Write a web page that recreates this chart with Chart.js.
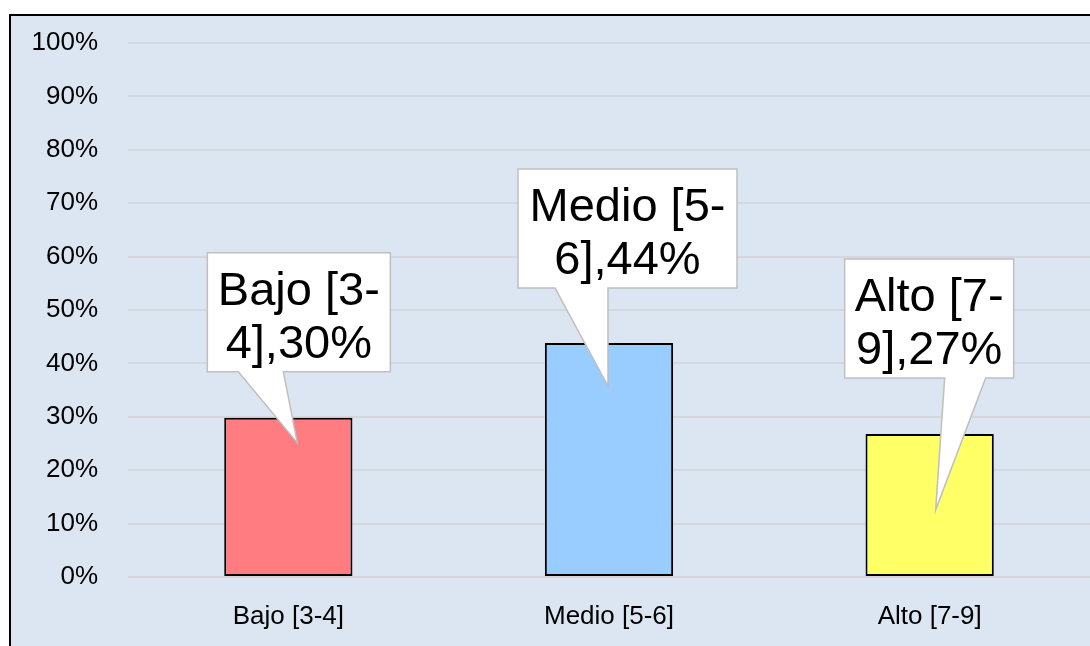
<!DOCTYPE html>
<html>
<head>
<meta charset="utf-8">
<script src="https://cdn.jsdelivr.net/npm/chart.js@4/dist/chart.umd.min.js"></script>
<style>
  html, body { margin: 0; padding: 0; background: #fff; }
  #panel {
    position: absolute; left: 9px; top: 14px;
    width: 1081px; height: 632px;
    box-sizing: border-box;
    border-left: 2px solid #000; border-top: 2px solid #000;
    background: #DCE6F2;
  }
  #grafico { display: block; }
</style>
</head>
<body>
<div id="panel"><canvas id="grafico" width="1079" height="630"></canvas></div>
<script>
// datos
const categorias = ['Bajo [3-4]', 'Medio [5-6]', 'Alto [7-9]'];
const porcentajes = [29.8, 43.8, 26.8];
const colores = ['#FF7C80', '#99CCFF', '#FFFF66'];
const marcasY = [0, 10, 20, 30, 40, 50, 60, 70, 80, 90, 100];

// posición de cada globo respecto a la parte superior del bar
const globos = [
  { dx: 10.5, abajo: -46, ancho: 183, puntaX: 9,  puntaY: 25, base1: 31,  base2: 76 },
  { dx: 18.5, abajo: -55, ancho: 219, puntaX: -1, puntaY: 43, base1: 37,  base2: 90 },
  { dx: -0.5, abajo: -56, ancho: 169, puntaX: 6,  puntaY: 76, base1: 100, base2: 141 }
];

const fuenteEjes = "'Liberation Sans', Arial, sans-serif";

const pluginGlobos = {
  id: 'globos',
  afterDatasetsDraw(chart) {
    const ctx = chart.ctx;
    const meta = chart.getDatasetMeta(0);
    meta.data.forEach((bar, i) => {
      const g = globos[i];
      const alto = 119;
      const izq = bar.x + g.dx - g.ancho / 2;
      const abajo = bar.y + g.abajo;
      const arriba = abajo - alto;
      const der = izq + g.ancho;

      ctx.save();
      ctx.beginPath();
      ctx.moveTo(izq, arriba);
      ctx.lineTo(der, arriba);
      ctx.lineTo(der, abajo);
      ctx.lineTo(izq + g.base2, abajo);
      ctx.lineTo(bar.x + g.puntaX, bar.y + g.puntaY);
      ctx.lineTo(izq + g.base1, abajo);
      ctx.lineTo(izq, abajo);
      ctx.closePath();
      ctx.fillStyle = '#FFFFFF';
      ctx.fill();
      ctx.lineWidth = 1.5;
      ctx.strokeStyle = '#BFBFBF';
      ctx.stroke();

      // texto partido en el guion, como hace Excel
      const texto = categorias[i] + ',' + Math.round(porcentajes[i]) + '%';
      const corte = texto.indexOf('-') + 1;
      const lineas = [texto.slice(0, corte), texto.slice(corte)];
      ctx.fillStyle = '#000';
      ctx.font = "47px 'Liberation Sans', Arial, sans-serif";
      ctx.textAlign = 'center';
      ctx.textBaseline = 'alphabetic';
      const cx = (izq + der) / 2;
      ctx.fillText(lineas[0], cx, arriba + 52);
      ctx.fillText(lineas[1], cx, arriba + 105);
      ctx.restore();
    });
  }
};

const ctx = document.getElementById('grafico').getContext('2d');
new Chart(ctx, {
  type: 'bar',
  data: {
    labels: categorias,
    datasets: [{
      data: porcentajes,
      backgroundColor: colores,
      borderColor: '#000',
      borderWidth: 2,
      borderSkipped: false,
      barPercentage: 0.4,
      categoryPercentage: 1
    }]
  },
  options: {
    responsive: false,
    animation: false,
    layout: { padding: { top: 27, left: 0, right: 0, bottom: 0 } },
    plugins: { legend: { display: false }, tooltip: { enabled: false } },
    scales: {
      x: {
        grid: { display: false },
        border: { display: false },
        ticks: { color: '#000', padding: 16, font: { family: fuenteEjes, size: 26 } },
        afterFit(scale) { scale.height = 69; }
      },
      y: {
        min: 0,
        max: 100,
        afterBuildTicks(scale) { scale.ticks = marcasY.map(v => ({ value: v })); },
        grid: { color: '#D4D8DC', lineWidth: 2, drawTicks: false },
        border: { display: false },
        ticks: {
          color: '#000',
          padding: 30,
          font: { family: fuenteEjes, size: 26 },
          callback: v => v + '%'
        },
        afterFit(scale) {
          scale.width = 117;
          scale.paddingTop = 0;
          scale.paddingBottom = 0;
        }
      }
    }
  },
  plugins: [pluginGlobos]
});
</script>
</body>
</html>
